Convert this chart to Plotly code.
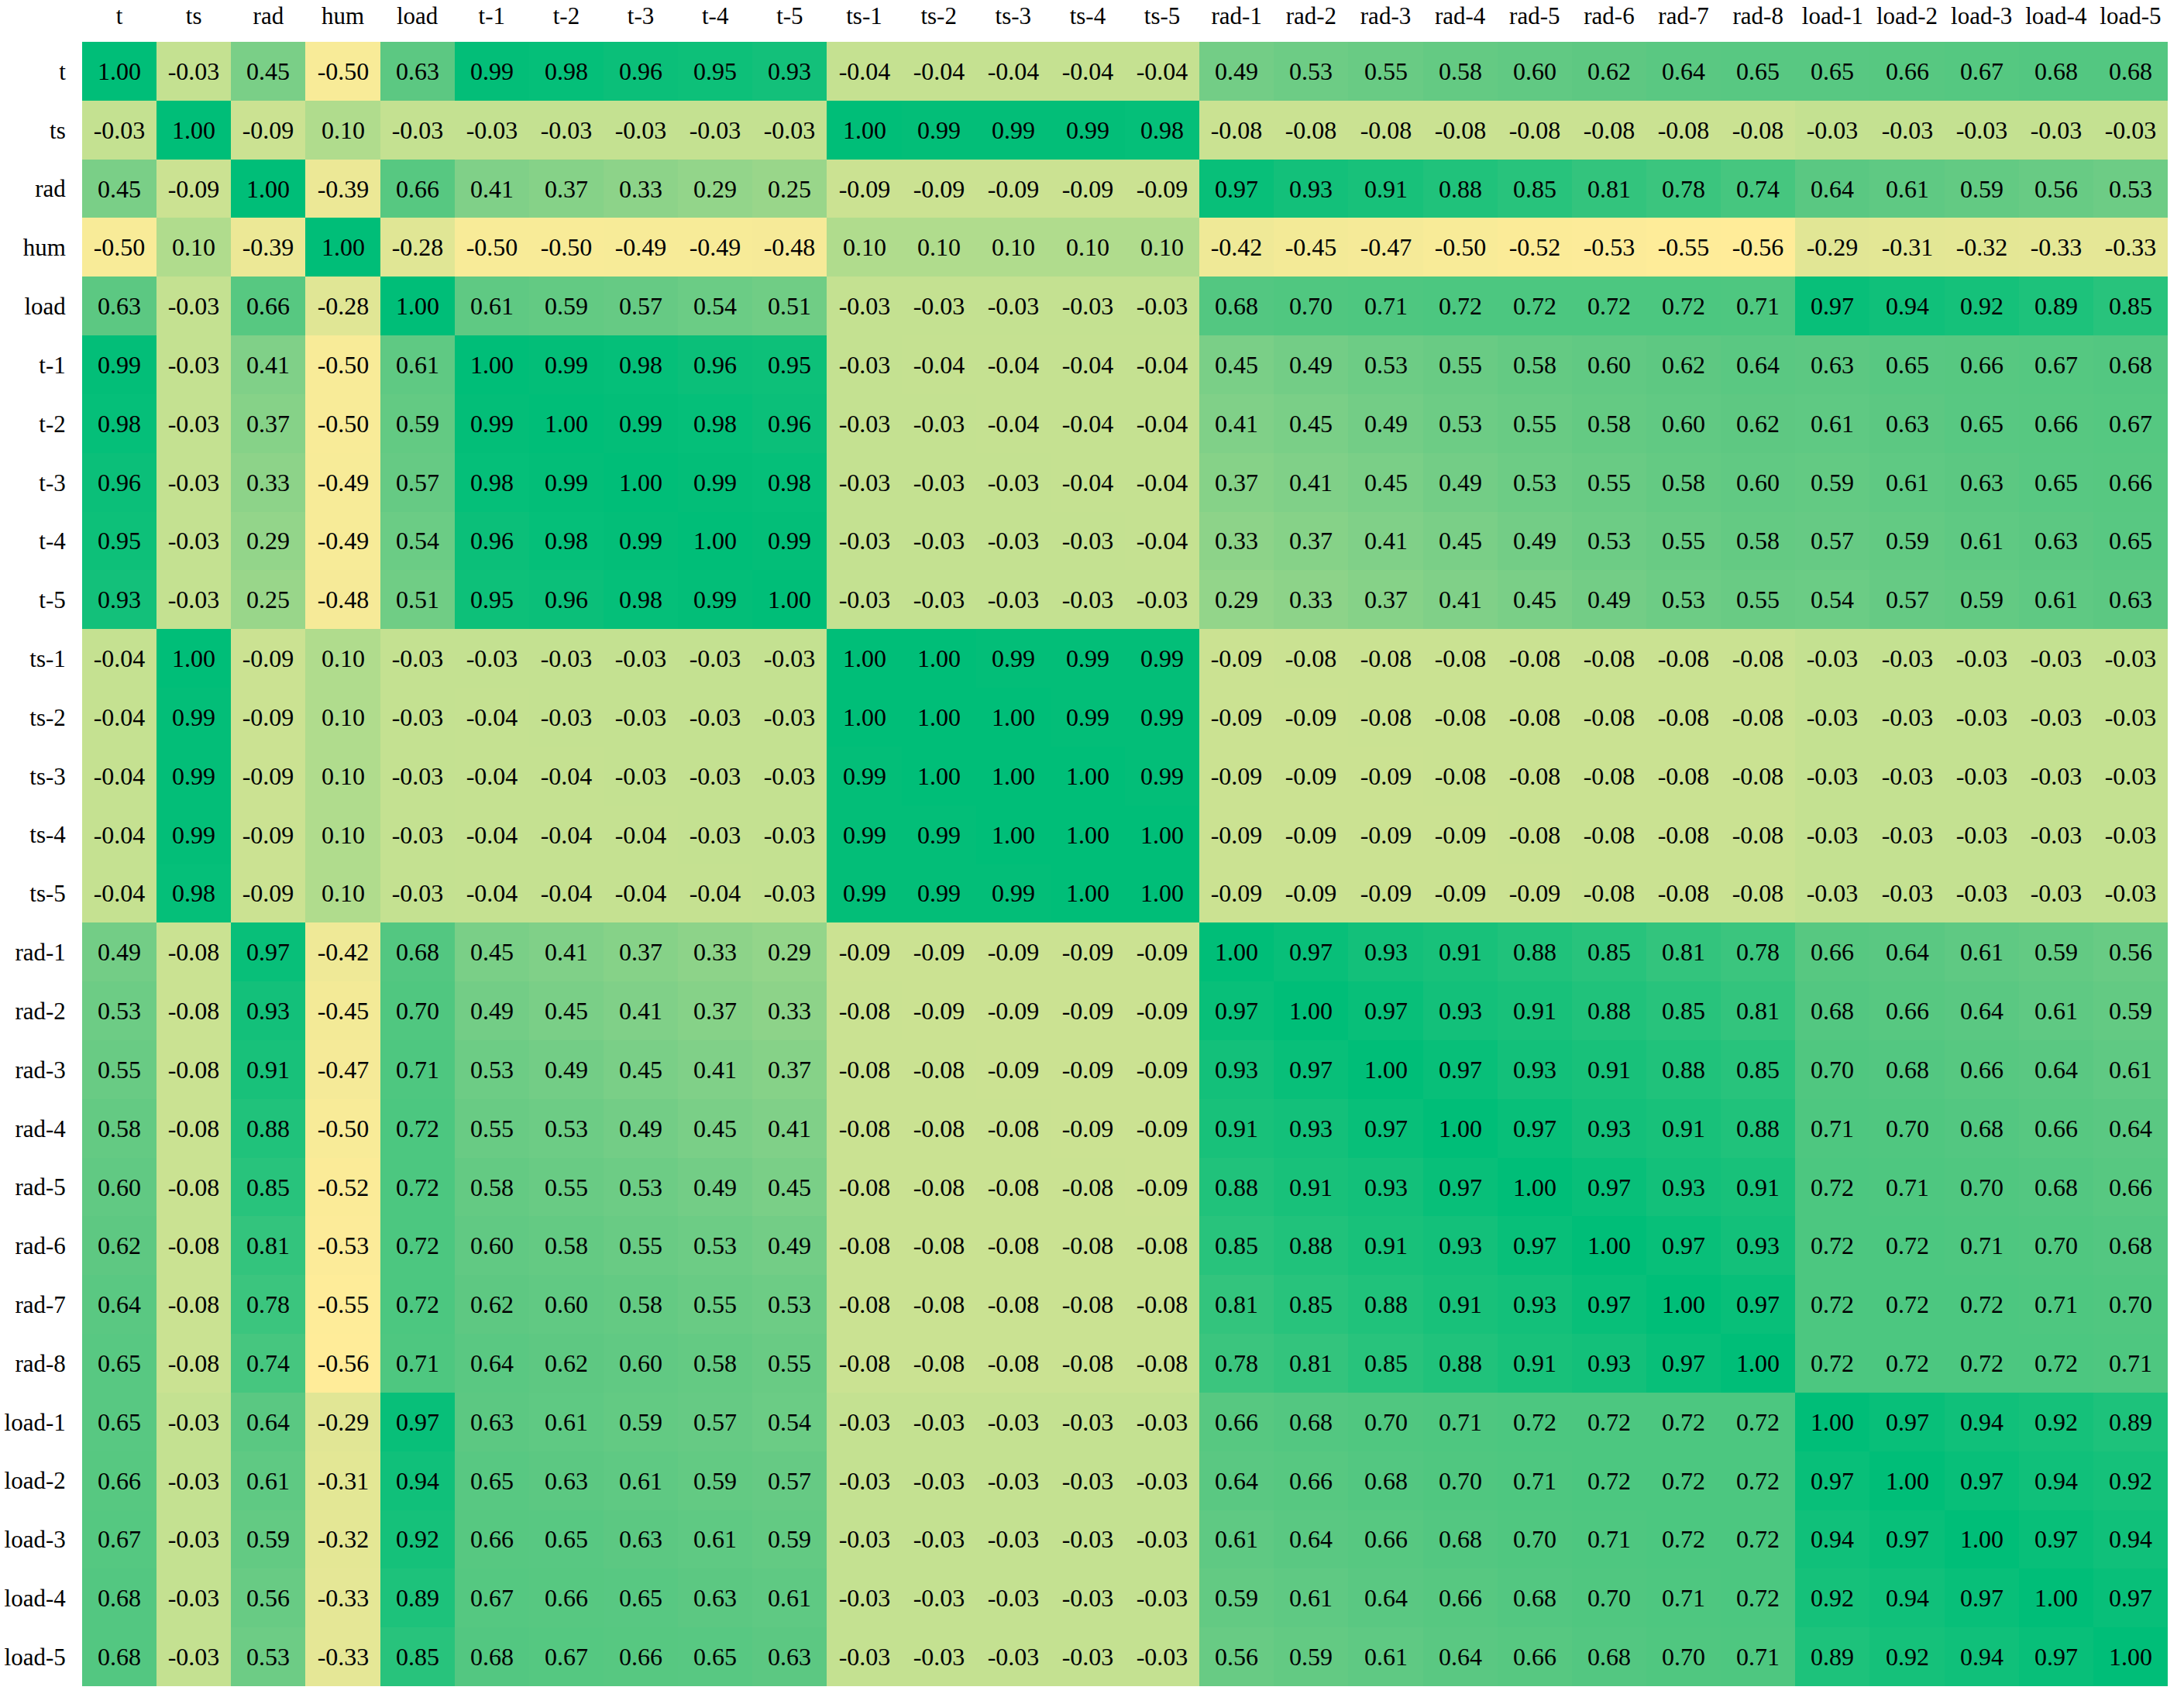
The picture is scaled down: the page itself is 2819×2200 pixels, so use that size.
import plotly.graph_objects as go

labels = ["t", "ts", "rad", "hum", "load",
          "t-1", "t-2", "t-3", "t-4", "t-5",
          "ts-1", "ts-2", "ts-3", "ts-4", "ts-5",
          "rad-1", "rad-2", "rad-3", "rad-4", "rad-5", "rad-6", "rad-7", "rad-8",
          "load-1", "load-2", "load-3", "load-4", "load-5"]

r_t     = [1.00, -0.03, 0.45, -0.50, 0.63, 0.99, 0.98, 0.96, 0.95, 0.93, -0.04, -0.04, -0.04, -0.04, -0.04, 0.49, 0.53, 0.55, 0.58, 0.60, 0.62, 0.64, 0.65, 0.65, 0.66, 0.67, 0.68, 0.68]
r_ts    = [-0.03, 1.00, -0.09, 0.10, -0.03, -0.03, -0.03, -0.03, -0.03, -0.03, 1.00, 0.99, 0.99, 0.99, 0.98, -0.08, -0.08, -0.08, -0.08, -0.08, -0.08, -0.08, -0.08, -0.03, -0.03, -0.03, -0.03, -0.03]
r_rad   = [0.45, -0.09, 1.00, -0.39, 0.66, 0.41, 0.37, 0.33, 0.29, 0.25, -0.09, -0.09, -0.09, -0.09, -0.09, 0.97, 0.93, 0.91, 0.88, 0.85, 0.81, 0.78, 0.74, 0.64, 0.61, 0.59, 0.56, 0.53]
r_hum   = [-0.50, 0.10, -0.39, 1.00, -0.28, -0.50, -0.50, -0.49, -0.49, -0.48, 0.10, 0.10, 0.10, 0.10, 0.10, -0.42, -0.45, -0.47, -0.50, -0.52, -0.53, -0.55, -0.56, -0.29, -0.31, -0.32, -0.33, -0.33]
r_load  = [0.63, -0.03, 0.66, -0.28, 1.00, 0.61, 0.59, 0.57, 0.54, 0.51, -0.03, -0.03, -0.03, -0.03, -0.03, 0.68, 0.70, 0.71, 0.72, 0.72, 0.72, 0.72, 0.71, 0.97, 0.94, 0.92, 0.89, 0.85]
r_t1    = [0.99, -0.03, 0.41, -0.50, 0.61, 1.00, 0.99, 0.98, 0.96, 0.95, -0.03, -0.04, -0.04, -0.04, -0.04, 0.45, 0.49, 0.53, 0.55, 0.58, 0.60, 0.62, 0.64, 0.63, 0.65, 0.66, 0.67, 0.68]
r_t2    = [0.98, -0.03, 0.37, -0.50, 0.59, 0.99, 1.00, 0.99, 0.98, 0.96, -0.03, -0.03, -0.04, -0.04, -0.04, 0.41, 0.45, 0.49, 0.53, 0.55, 0.58, 0.60, 0.62, 0.61, 0.63, 0.65, 0.66, 0.67]
r_t3    = [0.96, -0.03, 0.33, -0.49, 0.57, 0.98, 0.99, 1.00, 0.99, 0.98, -0.03, -0.03, -0.03, -0.04, -0.04, 0.37, 0.41, 0.45, 0.49, 0.53, 0.55, 0.58, 0.60, 0.59, 0.61, 0.63, 0.65, 0.66]
r_t4    = [0.95, -0.03, 0.29, -0.49, 0.54, 0.96, 0.98, 0.99, 1.00, 0.99, -0.03, -0.03, -0.03, -0.03, -0.04, 0.33, 0.37, 0.41, 0.45, 0.49, 0.53, 0.55, 0.58, 0.57, 0.59, 0.61, 0.63, 0.65]
r_t5    = [0.93, -0.03, 0.25, -0.48, 0.51, 0.95, 0.96, 0.98, 0.99, 1.00, -0.03, -0.03, -0.03, -0.03, -0.03, 0.29, 0.33, 0.37, 0.41, 0.45, 0.49, 0.53, 0.55, 0.54, 0.57, 0.59, 0.61, 0.63]
r_ts1   = [-0.04, 1.00, -0.09, 0.10, -0.03, -0.03, -0.03, -0.03, -0.03, -0.03, 1.00, 1.00, 0.99, 0.99, 0.99, -0.09, -0.08, -0.08, -0.08, -0.08, -0.08, -0.08, -0.08, -0.03, -0.03, -0.03, -0.03, -0.03]
r_ts2   = [-0.04, 0.99, -0.09, 0.10, -0.03, -0.04, -0.03, -0.03, -0.03, -0.03, 1.00, 1.00, 1.00, 0.99, 0.99, -0.09, -0.09, -0.08, -0.08, -0.08, -0.08, -0.08, -0.08, -0.03, -0.03, -0.03, -0.03, -0.03]
r_ts3   = [-0.04, 0.99, -0.09, 0.10, -0.03, -0.04, -0.04, -0.03, -0.03, -0.03, 0.99, 1.00, 1.00, 1.00, 0.99, -0.09, -0.09, -0.09, -0.08, -0.08, -0.08, -0.08, -0.08, -0.03, -0.03, -0.03, -0.03, -0.03]
r_ts4   = [-0.04, 0.99, -0.09, 0.10, -0.03, -0.04, -0.04, -0.04, -0.03, -0.03, 0.99, 0.99, 1.00, 1.00, 1.00, -0.09, -0.09, -0.09, -0.09, -0.08, -0.08, -0.08, -0.08, -0.03, -0.03, -0.03, -0.03, -0.03]
r_ts5   = [-0.04, 0.98, -0.09, 0.10, -0.03, -0.04, -0.04, -0.04, -0.04, -0.03, 0.99, 0.99, 0.99, 1.00, 1.00, -0.09, -0.09, -0.09, -0.09, -0.09, -0.08, -0.08, -0.08, -0.03, -0.03, -0.03, -0.03, -0.03]
r_rad1  = [0.49, -0.08, 0.97, -0.42, 0.68, 0.45, 0.41, 0.37, 0.33, 0.29, -0.09, -0.09, -0.09, -0.09, -0.09, 1.00, 0.97, 0.93, 0.91, 0.88, 0.85, 0.81, 0.78, 0.66, 0.64, 0.61, 0.59, 0.56]
r_rad2  = [0.53, -0.08, 0.93, -0.45, 0.70, 0.49, 0.45, 0.41, 0.37, 0.33, -0.08, -0.09, -0.09, -0.09, -0.09, 0.97, 1.00, 0.97, 0.93, 0.91, 0.88, 0.85, 0.81, 0.68, 0.66, 0.64, 0.61, 0.59]
r_rad3  = [0.55, -0.08, 0.91, -0.47, 0.71, 0.53, 0.49, 0.45, 0.41, 0.37, -0.08, -0.08, -0.09, -0.09, -0.09, 0.93, 0.97, 1.00, 0.97, 0.93, 0.91, 0.88, 0.85, 0.70, 0.68, 0.66, 0.64, 0.61]
r_rad4  = [0.58, -0.08, 0.88, -0.50, 0.72, 0.55, 0.53, 0.49, 0.45, 0.41, -0.08, -0.08, -0.08, -0.09, -0.09, 0.91, 0.93, 0.97, 1.00, 0.97, 0.93, 0.91, 0.88, 0.71, 0.70, 0.68, 0.66, 0.64]
r_rad5  = [0.60, -0.08, 0.85, -0.52, 0.72, 0.58, 0.55, 0.53, 0.49, 0.45, -0.08, -0.08, -0.08, -0.08, -0.09, 0.88, 0.91, 0.93, 0.97, 1.00, 0.97, 0.93, 0.91, 0.72, 0.71, 0.70, 0.68, 0.66]
r_rad6  = [0.62, -0.08, 0.81, -0.53, 0.72, 0.60, 0.58, 0.55, 0.53, 0.49, -0.08, -0.08, -0.08, -0.08, -0.08, 0.85, 0.88, 0.91, 0.93, 0.97, 1.00, 0.97, 0.93, 0.72, 0.72, 0.71, 0.70, 0.68]
r_rad7  = [0.64, -0.08, 0.78, -0.55, 0.72, 0.62, 0.60, 0.58, 0.55, 0.53, -0.08, -0.08, -0.08, -0.08, -0.08, 0.81, 0.85, 0.88, 0.91, 0.93, 0.97, 1.00, 0.97, 0.72, 0.72, 0.72, 0.71, 0.70]
r_rad8  = [0.65, -0.08, 0.74, -0.56, 0.71, 0.64, 0.62, 0.60, 0.58, 0.55, -0.08, -0.08, -0.08, -0.08, -0.08, 0.78, 0.81, 0.85, 0.88, 0.91, 0.93, 0.97, 1.00, 0.72, 0.72, 0.72, 0.72, 0.71]
r_load1 = [0.65, -0.03, 0.64, -0.29, 0.97, 0.63, 0.61, 0.59, 0.57, 0.54, -0.03, -0.03, -0.03, -0.03, -0.03, 0.66, 0.68, 0.70, 0.71, 0.72, 0.72, 0.72, 0.72, 1.00, 0.97, 0.94, 0.92, 0.89]
r_load2 = [0.66, -0.03, 0.61, -0.31, 0.94, 0.65, 0.63, 0.61, 0.59, 0.57, -0.03, -0.03, -0.03, -0.03, -0.03, 0.64, 0.66, 0.68, 0.70, 0.71, 0.72, 0.72, 0.72, 0.97, 1.00, 0.97, 0.94, 0.92]
r_load3 = [0.67, -0.03, 0.59, -0.32, 0.92, 0.66, 0.65, 0.63, 0.61, 0.59, -0.03, -0.03, -0.03, -0.03, -0.03, 0.61, 0.64, 0.66, 0.68, 0.70, 0.71, 0.72, 0.72, 0.94, 0.97, 1.00, 0.97, 0.94]
r_load4 = [0.68, -0.03, 0.56, -0.33, 0.89, 0.67, 0.66, 0.65, 0.63, 0.61, -0.03, -0.03, -0.03, -0.03, -0.03, 0.59, 0.61, 0.64, 0.66, 0.68, 0.70, 0.71, 0.72, 0.92, 0.94, 0.97, 1.00, 0.97]
r_load5 = [0.68, -0.03, 0.53, -0.33, 0.85, 0.68, 0.67, 0.66, 0.65, 0.63, -0.03, -0.03, -0.03, -0.03, -0.03, 0.56, 0.59, 0.61, 0.64, 0.66, 0.68, 0.70, 0.71, 0.89, 0.92, 0.94, 0.97, 1.00]

z = [r_t, r_ts, r_rad, r_hum, r_load,
     r_t1, r_t2, r_t3, r_t4, r_t5,
     r_ts1, r_ts2, r_ts3, r_ts4, r_ts5,
     r_rad1, r_rad2, r_rad3, r_rad4, r_rad5, r_rad6, r_rad7, r_rad8,
     r_load1, r_load2, r_load3, r_load4, r_load5]

text = [[f"{v:.2f}" for v in row] for row in z]

zmin, zmax = -0.56, 1.00
def n(v):
    return (v - zmin) / (zmax - zmin)

colorscale = [
    [0.0, "rgb(255,236,153)"],
    [n(-0.03), "rgb(196,225,145)"],
    [n(0.10), "rgb(176,220,141)"],
    [n(0.45), "rgb(122,207,135)"],
    [n(0.63), "rgb(92,200,130)"],
    [n(0.72), "rgb(76,199,128)"],
    [n(0.85), "rgb(40,195,124)"],
    [1.0, "rgb(0,190,120)"],
]

FONT = "Liberation Serif, Times New Roman, serif"

fig = go.Figure(go.Heatmap(
    z=z, x=labels, y=labels,
    text=text, texttemplate="%{text}",
    textfont=dict(family=FONT, size=32, color="black"),
    colorscale=colorscale, zmin=zmin, zmax=zmax,
    showscale=False, xgap=0, ygap=0,
))

fig.update_layout(
    width=2819, height=2200,
    margin=dict(l=106, r=21, t=54, b=23),
    paper_bgcolor="white", plot_bgcolor="white",
    font=dict(family=FONT, size=31, color="black"),
    xaxis=dict(side="top", showgrid=False, zeroline=False, automargin=False,
               ticks="outside", ticklen=10, tickcolor="rgba(0,0,0,0)",
               tickfont=dict(family=FONT, size=31, color="black")),
    yaxis=dict(autorange="reversed", showgrid=False, zeroline=False, automargin=False,
               ticks="outside", ticklen=14, tickcolor="rgba(0,0,0,0)",
               tickfont=dict(family=FONT, size=31, color="black")),
)

fig.write_html("out.html",
               config={"displayModeBar": False},
               post_script="document.body.style.margin='0';document.body.style.overflow='hidden';")
